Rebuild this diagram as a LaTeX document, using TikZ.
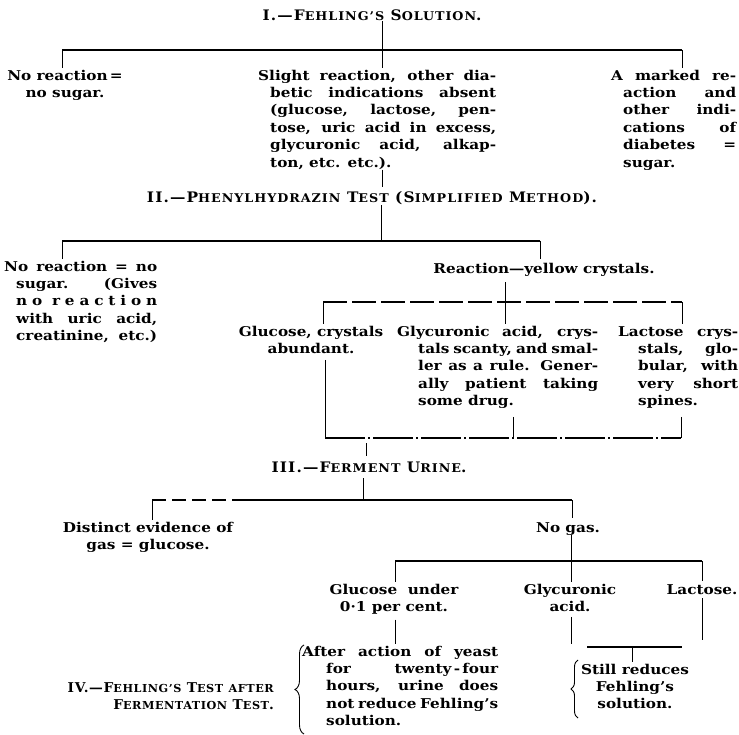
\documentclass[tikz,border=0pt]{standalone}
\usepackage{fontspec}
\setmainfont{DejaVu Serif}[FakeStretch=1.13]
\newfontfamily\headfont{DejaVu Serif}[LetterSpace=8, FakeStretch=1.06]
\newfontfamily\subheadfont{DejaVu Serif}[LetterSpace=5, FakeStretch=1.02]
\usetikzlibrary{decorations.pathreplacing}

\newlength\blockw
\newlength\hangw
% justified lines with hanging indent
\newcommand\jl[1]{\makebox[\blockw][s]{\strut#1}}
\newcommand\hl[1]{\hspace*{\hangw}\makebox[\dimexpr\blockw-\hangw\relax][s]{#1}}
\newcommand\hlast[1]{\hspace*{\hangw}#1}
% small capitals
\newcommand\smc[1]{{\fontsize{12}{14}\selectfont#1}}
\newcommand\smcs[1]{{\fontsize{11}{13}\selectfont#1}}

\begin{document}
\begin{tikzpicture}[x=1pt, y=-1pt,
    txt/.style={font=\bfseries\fontsize{13.5}{17.4}\selectfont, inner sep=0pt, align=center},
    head/.style={font=\headfont\bfseries\fontsize{14.5}{17.4}\selectfont, inner sep=0pt},
    para/.style 2 args={txt, anchor=north west, align=left,
        execute at begin node={\global\blockw=#1\relax\global\hangw=#2\relax}},
    ln/.style={line width=0.8pt},
    bus/.style={line width=1.1pt},
    dbus/.style={bus, dash pattern=on 24pt off 5pt},
    dbus2/.style={bus, dash pattern=on 40pt off 3pt on 2pt off 3pt},
    brc/.style={decorate, decoration={brace, amplitude=#1}, line width=0.9pt},
]
\useasboundingbox (0,0) rectangle (739,735);

% I
\node[head, anchor=base] (t1) at (372,21) {I.—F\smc{EHLING’S} S\smc{OLUTION}.};
\node[txt, anchor=north] (nor) at (65,67.8) {\strut No reaction\,=\\no sugar.};
\node[para={238pt}{12pt}] (slight) at (258,67.8) {\jl{Slight reaction, other dia-}\\\hl{betic indications absent}\\\hl{(glucose, lactose, pen-}\\\hl{tose, uric acid in excess,}\\\hl{glycuronic acid, alkap-}\\\hlast{ton, etc. etc.).}};
\node[para={125pt}{12pt}] (marked) at (611,67.8) {\jl{A marked re-}\\\hl{action and}\\\hl{other indi-}\\\hl{cations of}\\\hl{diabetes =}\\\hlast{sugar.}};

% II
\node[head, anchor=base] (t2) at (372,203) {II.—P\smc{HENYLHYDRAZIN} T\smc{EST} (S\smc{IMPLIFIED} M\smc{ETHOD}).};
\node[para={153pt}{12pt}] (nor2) at (4,258.8) {\jl{No reaction = no}\\\hl{sugar. (Gives}\\\hl{n o\ \ r e a c t i o n}\\\hl{with uric acid,}\\\hl{creatinine, etc.)}};
\node[txt, anchor=base] (react) at (544,274) {Reaction—yellow crystals.};
\node[txt, anchor=north] (gluc) at (311,323.8) {\strut Glucose, crystals\\abundant.};
\node[para={201pt}{21pt}] (glyc) at (397,323.8) {\jl{Glycuronic acid, crys-}\\\hl{tals scanty, and smal-}\\\hl{ler as a rule. Gener-}\\\hl{ally patient taking}\\\hlast{some drug.}};
\node[para={120pt}{20pt}] (lact) at (618,323.8) {\jl{Lactose crys-}\\\hl{stals, glo-}\\\hl{bular, with}\\\hl{very short}\\\hlast{spines.}};

% III
\node[head, anchor=base] (t3) at (369,472) {III.—F\smc{ERMENT} U\smc{RINE}.};
\node[txt, anchor=north] (dist) at (148,519.8) {\strut Distinct evidence of\\gas = glucose.};
\node[txt, anchor=base] (nogas) at (568,532) {No gas.};
\node[txt, anchor=north] (gluc2) at (394,581.8) {\strut Glucose\ \ under\\0·1 per cent.};
\node[txt, anchor=north] (glyc2) at (570,581.8) {\strut Glycuronic\\acid.};
\node[txt, anchor=base] (lact2) at (702,594) {Lactose.};

% IV
\node[head, font=\subheadfont\bfseries\fontsize{13.5}{17.4}\selectfont, anchor=north east, align=right] (t4) at (274,679.8) {\strut IV.—F\smcs{EHLING’S} T\smcs{EST} \smcs{AFTER}\\F\smcs{ERMENTATION} T\smcs{EST}.};
\node[para={196pt}{24pt}] (after) at (302,643.8) {\jl{After action of yeast}\\\hl{for\hfill twenty\,-\,four}\\\hl{hours, urine does}\\\hl{not reduce Fehling’s}\\\hlast{solution.}};
\node[txt, anchor=north] (still) at (635,661.8) {\strut Still reduces\\Fehling’s\\solution.};

% junctions
\coordinate (j1) at (382,50);
\coordinate (b1l) at (62,50);
\coordinate (b1r) at (682,50);
\coordinate (j2) at (381,241);
\coordinate (b2l) at (62,241);
\coordinate (b2r) at (540,241);
\coordinate (j3) at (505,302);
\coordinate (b3l) at (323,302);
\coordinate (b3r) at (682,302);
\coordinate (j4) at (366,438);
\coordinate (b4l) at (325,438);
\coordinate (b4m) at (513,438);
\coordinate (b4r) at (681,438);
\coordinate (j5) at (363,500);
\coordinate (b5l) at (152,500);
\coordinate (b5d) at (238,500);
\coordinate (b5r) at (572,500);
\coordinate (j6) at (571,561);
\coordinate (b6l) at (395,561);
\coordinate (b6r) at (702,561);
\coordinate (acid) at (571,644);
\coordinate (lacend) at (702,640);
\coordinate (b7l) at (587,647);
\coordinate (j7) at (632,647);
\coordinate (b7r) at (682,647);

% I lines
\draw[ln] (t1.south -| j1) -- (j1);
\draw[bus] (b1l) -- (b1r);
\draw[ln] (b1l) -- (b1l |- nor.north);
\draw[ln] (j1) -- (j1 |- slight.north);
\draw[ln] (b1r) -- (b1r |- marked.north);
\draw[line width=0.5pt, shorten >=5pt] (j1 |- slight.south) -- (j1 |- t2.north);

% II lines
\draw[ln] (t2.south -| j2) -- (j2);
\draw[bus] (b2l) -- (b2r);
\draw[ln] (b2l) -- (b2l |- nor2.north);
\draw[ln, shorten >=5pt] (b2r) -- (b2r |- react.north);
\draw[ln, shorten <=5pt] (react.south -| j3) -- (j3);
\draw[dbus] (b3l) -- (b3r);
\draw[ln] (b3l) -- (b3l |- gluc.north);
\draw[ln] (j3) -- (j3 |- glyc.north);
\draw[ln] (b3r) -- (b3r |- lact.north);
\draw[ln, shorten <=6pt] (gluc.south -| b4l) -- (b4l);
\draw[ln, shorten <=8pt] (glyc.south -| b4m) -- (b4m);
\draw[ln, shorten <=8pt] (lact.south -| b4r) -- (b4r);
\draw[dbus2] (b4l) -- (b4r);

% III lines
\draw[ln, shorten <=5pt, shorten >=5pt] (j4) -- (j4 |- t3.north);
\draw[ln, shorten <=6pt] (t3.south -| j5) -- (j5);
\draw[bus, dash pattern=on 14pt off 6pt] (b5l) -- (b5d);
\draw[bus] (b5d) -- (b5r);
\draw[ln] (b5l) -- (b5l |- dist.north);
\draw[ln, shorten >=4pt] (b5r) -- (b5r |- nogas.north);
\draw[ln] (nogas.south -| j6) -- (j6);
\draw[bus] (b6l) -- (b6r);
\draw[ln] (b6l) -- (b6l |- gluc2.north);
\draw[ln] (j6) -- (j6 |- glyc2.north);
\draw[ln, shorten >=3pt] (b6r) -- (b6r |- lact2.north);

% IV lines
\draw[ln, shorten <=5pt] (gluc2.south -| b6l) -- (b6l |- after.north);
\draw[ln, shorten <=5pt] (glyc2.south -| acid) -- (acid);
\draw[ln, shorten <=4pt] (lact2.south -| lacend) -- (lacend);
\draw[bus] (b7l) -- (b7r);
\draw[ln] (j7) -- (j7 |- still.north);
\draw[brc=9pt] (304,734) -- (304,645);
\draw[brc=7pt] (578,718) -- (578,660);

\end{tikzpicture}
\end{document}
